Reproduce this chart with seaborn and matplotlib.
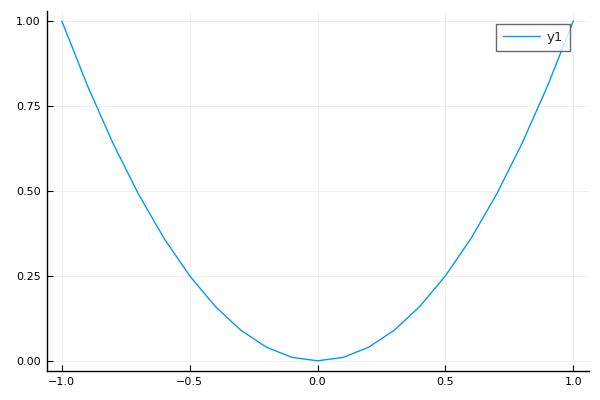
import matplotlib
matplotlib.use("Agg")
import matplotlib.pyplot as plt
import seaborn as sns
import pandas as pd

x_vals = [-1.0, -0.9, -0.8, -0.7, -0.6, -0.5, -0.4, -0.3, -0.2, -0.1, 0.0,
          0.1, 0.2, 0.3, 0.4, 0.5, 0.6, 0.7, 0.8, 0.9, 1.0]
y_vals = [1.0, 0.81, 0.64, 0.49, 0.36, 0.25, 0.16, 0.09, 0.04, 0.01, 0.0,
          0.01, 0.04, 0.09, 0.16, 0.25, 0.36, 0.49, 0.64, 0.81, 1.0]
x_ticks = [-1.0, -0.5, 0.0, 0.5, 1.0]
y_ticks = [0.00, 0.25, 0.50, 0.75, 1.00]
series_name = "y1"

sns.set_style("white")
plt.rcParams['font.family'] = ['DejaVu Sans']

df = pd.DataFrame({"x": x_vals, "y": y_vals})

fig = plt.figure(figsize=(6, 4), dpi=100)
ax = fig.add_axes([0.0775, 0.0725, 0.981 - 0.0775, 0.973 - 0.0725])
sns.lineplot(data=df, x="x", y="y", ax=ax, color="#009AFA", linewidth=1.0,
             label=series_name, estimator=None, sort=False)

ax.set_xlim(-1.06, 1.06)
ax.set_ylim(-0.03, 1.03)
ax.set_xticks(x_ticks)
ax.set_xticklabels(["\u22121.0", "\u22120.5", "0.0", "0.5", "1.0"])
ax.set_yticks(y_ticks)
ax.set_yticklabels(["0.00", "0.25", "0.50", "0.75", "1.00"])
ax.set_xlabel("")
ax.set_ylabel("")
ax.grid(True, color="black", alpha=0.08, linewidth=0.5)
for s in ["top", "right"]:
    ax.spines[s].set_visible(False)
for s in ["left", "bottom"]:
    ax.spines[s].set_visible(True)
    ax.spines[s].set_color("black")
    ax.spines[s].set_linewidth(1.0)
ax.tick_params(axis="both", direction="in", length=4, width=0.8,
               labelsize=8, colors="black", left=True, bottom=True, pad=4)

leg = ax.legend(loc="upper right", bbox_to_anchor=(570 / 600, 1 - 23.7 / 400),
                bbox_transform=fig.transFigure, fontsize=9.5, frameon=True,
                fancybox=False, handlelength=2.8, handletextpad=0.5,
                borderpad=0.55, borderaxespad=0)
leg.get_frame().set_edgecolor("#444444")
leg.get_frame().set_linewidth(1.0)

fig.savefig("out.png", dpi=100)
